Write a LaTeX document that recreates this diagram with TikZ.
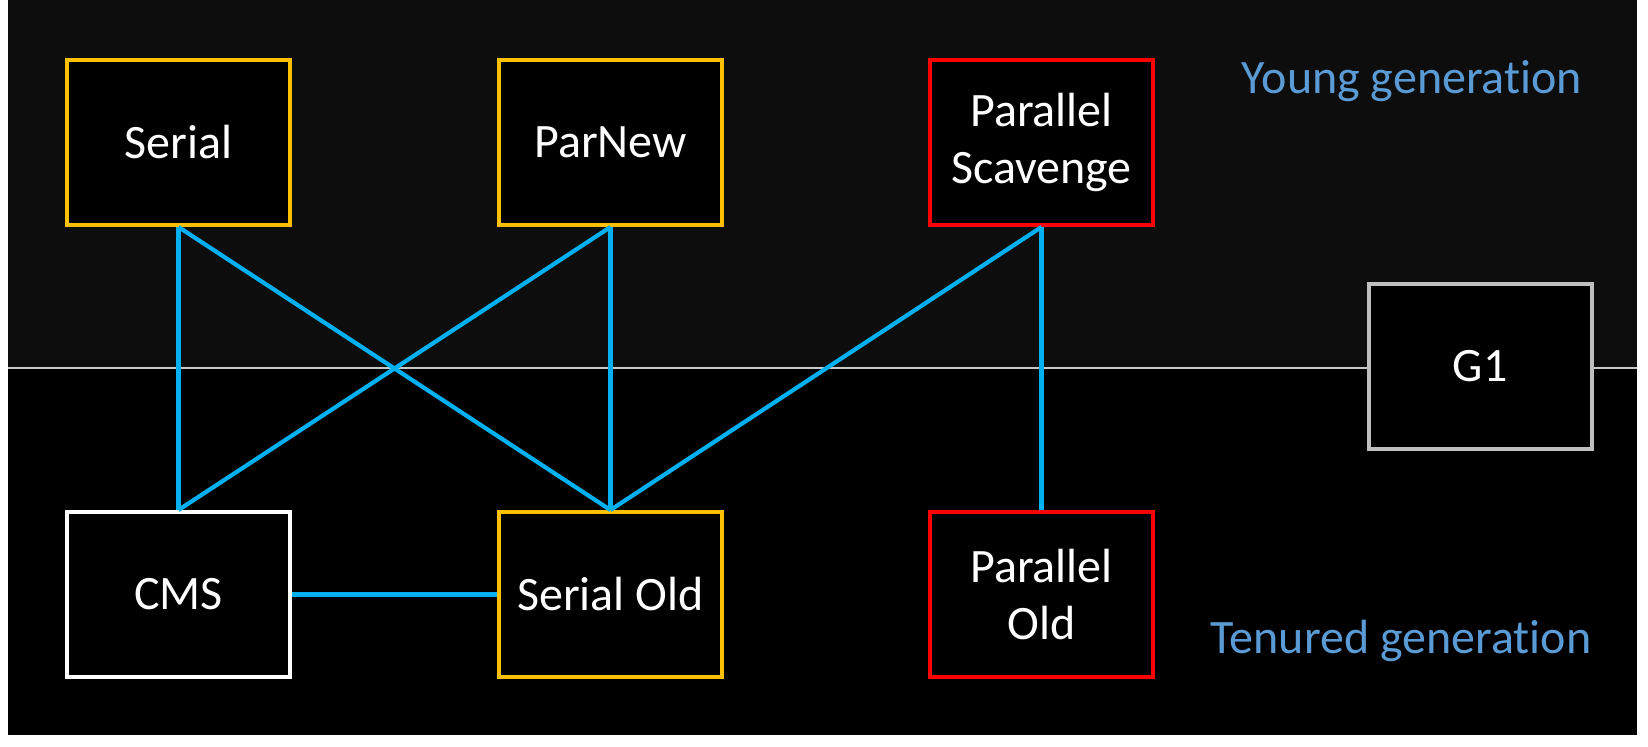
\documentclass[tikz,border=0pt]{standalone}
\usepackage{fontspec}
\setmainfont{Carlito}[Ligatures=NoCommon]
\usepackage{tikz}
\usetikzlibrary{calc}
\definecolor{gcbgtop}{RGB}{13,13,13}
\definecolor{gcbgbot}{RGB}{0,0,0}
\definecolor{gcdivide}{RGB}{200,200,200}
\definecolor{gcorange}{RGB}{255,192,0}
\definecolor{gcred}{RGB}{255,0,0}
\definecolor{gcgray}{RGB}{191,191,191}
\definecolor{gclink}{RGB}{0,176,240}
\definecolor{gclabel}{RGB}{91,155,213}
\newcommand{\gcfont}{\fontsize{24}{28.5}\selectfont}
\tikzset{
  gcbox/.style={rectangle, fill=black, text=white,
    minimum width=111.5pt, minimum height=82.5pt,
    align=center, font=\gcfont, line width=2pt},
  ybox/.style={gcbox, draw=gcorange},
  rbox/.style={gcbox, draw=gcred},
  wbox/.style={gcbox, draw=white},
  gbox/.style={gcbox, draw=gcgray},
  genlabel/.style={font=\gcfont, text=gclabel},
  link/.style={line width=2.1pt, color=gclink}
}

\begin{document}
\begin{tikzpicture}[x=0.5pt, y=-0.5pt]
  \useasboundingbox (0,0) rectangle (1648,747);
  % ── background halves ─────────────────────────────────────────────────────
  \fill[gcbgtop] (8,0) rectangle (1637,368);
  \fill[gcbgbot] (8,368) rectangle (1637,735);
  \draw[gcdivide, line width=0.75pt] (8,368) -- (1637,368);

  % ── young generation collectors ──────────────────────────────────────────
  \node[ybox] (serial)  at (178.5,142.5)  {Serial};
  \node[ybox] (parnew)  at (610.5,142.5)  {ParNew};
  \node[rbox] (parscav) at (1041.5,142.5) {Parallel\\Scavenge};

  % ── tenured generation collectors ────────────────────────────────────────
  \node[wbox] (cms)     at (178.5,594.5)  {CMS};
  \node[ybox] (serold)  at (610.5,594.5)  {Serial Old};
  \node[rbox] (parold)  at (1041.5,594.5) {Parallel\\Old};

  % G1 sits across both generations
  \node[gbox] (g1) at (1480,366.5) {G1};

  \node[genlabel] (younglbl)   at (1412,81)  {Young generation};
  \node[genlabel] (tenuredlbl) at (1401,641) {Tenured generation};

  % ── which pairs work together ─────────────────────────────────────────────
  \draw[link] (serial.south)  -- (cms.north);
  \draw[link] (serial.south)  -- (serold.north);
  \draw[link] (parnew.south)  -- (cms.north);
  \draw[link] (parnew.south)  -- (serold.north);
  \draw[link] (parscav.south) -- (serold.north);
  \draw[link] (parscav.south) -- (parold.north);
  \draw[link] (cms.east)      -- (serold.west);
\end{tikzpicture}
\end{document}
